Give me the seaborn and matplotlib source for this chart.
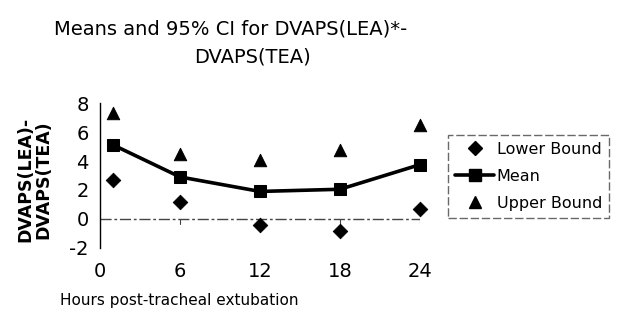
import matplotlib
matplotlib.use("Agg")
import matplotlib.pyplot as plt
import seaborn as sns
import pandas as pd
from matplotlib.lines import Line2D

hours = [1, 6, 12, 18, 24]
lower_bound = [2.7, 1.2, -0.4, -0.8, 0.7]
mean_vals = [5.1, 2.9, 1.9, 2.05, 3.75]
upper_bound = [7.3, 4.5, 4.1, 4.75, 6.45]
x_ticks = [0, 6, 12, 18, 24]
y_ticks = [-2, 0, 2, 4, 6, 8]
legend_labels = ["Lower Bound", "Mean", "Upper Bound"]

sns.set_style("white")
plt.rcParams['font.family'] = ['DejaVu Sans']
plt.rcParams['text.color'] = 'black'
plt.rcParams['axes.labelcolor'] = 'black'
plt.rcParams['xtick.color'] = 'black'
plt.rcParams['ytick.color'] = 'black'

df = pd.DataFrame({"hours": hours, "lower": lower_bound, "mean": mean_vals, "upper": upper_bound})

fig = plt.figure(figsize=(6.19, 3.25), dpi=100)
ax = fig.add_axes([0.1616, 0.237, 0.5169, 0.446])

sns.scatterplot(data=df, x="hours", y="lower", marker="D", s=55, color="black",
                edgecolor="black", ax=ax, zorder=3, clip_on=False)
sns.lineplot(data=df, x="hours", y="mean", marker="s", markersize=8, color="black",
             linewidth=2.6, markeredgecolor="black", ax=ax, zorder=3, clip_on=False)
sns.scatterplot(data=df, x="hours", y="upper", marker="^", s=80, color="black",
                edgecolor="black", ax=ax, zorder=3, clip_on=False)

ax.axhline(0, xmin=0.0, xmax=1.0, color="#444444", linewidth=1.0, linestyle=(0, (8, 2, 2, 2)), zorder=1)
for t in [6, 12, 18, 24]:
    ax.plot([t, t], [0, -0.35], color="#444444", linewidth=0.8, zorder=1)

ax.set_xlim(0, 24)
ax.set_ylim(-2, 8)
ax.set_xticks(x_ticks)
ax.set_xticklabels([str(v) for v in x_ticks], fontsize=14)
ax.set_yticks(y_ticks)
ax.set_yticklabels([str(v) for v in y_ticks], fontsize=14)
ax.tick_params(axis="x", length=0, pad=10)
ax.tick_params(axis="y", length=4, width=0.8, direction="out", color="black", pad=4)
for s in ["top", "right", "bottom"]:
    ax.spines[s].set_visible(False)
ax.spines["left"].set_color("black")
ax.spines["left"].set_linewidth(1.0)
ax.set_xlabel("")
ax.set_ylabel("DVAPS(LEA)-\nDVAPS(TEA)", fontsize=12.5, fontweight="bold",
              linespacing=1.0)
ax.yaxis.set_label_coords(-0.15, 0.47)

fig.text(0.29, 0.075, "Hours post-tracheal extubation", fontsize=11, ha="center", va="center")
fig.text(0.372, 0.91, "Means and 95% CI for DVAPS(LEA)*-", fontsize=14, ha="center", va="center")
fig.text(0.408, 0.825, "DVAPS(TEA)", fontsize=14, ha="center", va="center")

handles = [
    Line2D([], [], marker="D", color="black", linestyle="none", markersize=7),
    Line2D([], [], marker="s", color="black", linewidth=2.6, markersize=8),
    Line2D([], [], marker="^", color="black", linestyle="none", markersize=9),
]
leg = fig.legend(handles, legend_labels, loc="upper left",
                 bbox_to_anchor=(0.724, 0.585), fontsize=11.5, frameon=True, fancybox=False,
                 handlelength=2.4, handletextpad=0.2, borderpad=0.45, labelspacing=0.75,
                 borderaxespad=0)
leg.get_frame().set_edgecolor("#444444")
leg.get_frame().set_linewidth(1.0)
leg.get_frame().set_linestyle((0, (6, 2)))

fig.savefig("out.png", dpi=100)
